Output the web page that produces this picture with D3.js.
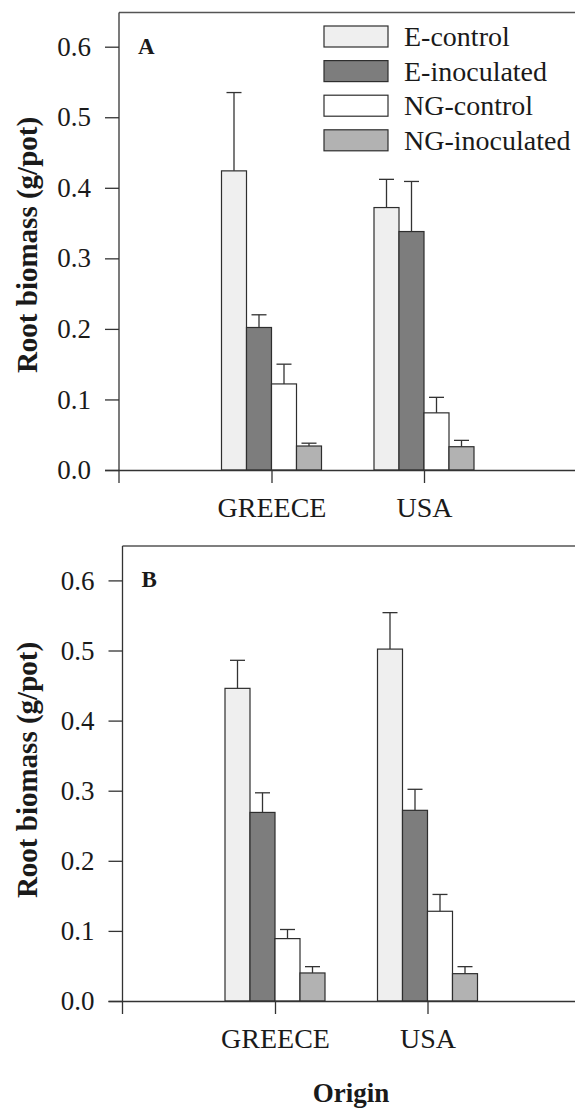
<!DOCTYPE html>
<html>
<head>
<meta charset="utf-8">
<script src="https://cdn.jsdelivr.net/npm/d3@7"></script>
<style>
  body { margin: 0; background: #fff; }
</style>
</head>
<body>
<svg id="chart" width="575" height="1110"></svg>
<script>
// data
const origins = ["GREECE", "USA"];
const treatments = ["E-control", "E-inoculated", "NG-control", "NG-inoculated"];
const yTicks = [0, 0.1, 0.2, 0.3, 0.4, 0.5, 0.6];

// panel A, rows = origin, cols = treatment
const meanA = [[0.424, 0.202, 0.122, 0.034], [0.372, 0.338, 0.081, 0.033]];
const errA  = [[0.111, 0.018, 0.028, 0.004], [0.040, 0.071, 0.022, 0.009]];
// panel B
const meanB = [[0.446, 0.269, 0.089, 0.040], [0.502, 0.272, 0.128, 0.039]];
const errB  = [[0.040, 0.028, 0.013, 0.009], [0.052, 0.030, 0.024, 0.010]];

const fills = ["#efefef", "#7d7d7d", "#ffffff", "#b2b2b2"];
const FONT = "'Liberation Serif', 'Times New Roman', serif";

const svg = d3.select("#chart");

const color = d3.scaleOrdinal().domain(treatments).range(fills);

function drawPanel(opt) {
  const g = svg.append("g");

  const x = d3.scaleLinear().domain([0, 3]).range([opt.left, opt.left + 3 * 152.5]);
  const y = d3.scaleLinear().domain([0, 0.6]).range([opt.bottom, opt.top06]);
  const bar = d3.scaleBand().domain(treatments).range([-50, 50]).padding(0);

  // frame top + left axis line running up to it and down past the x axis
  g.append("line")
    .attr("x1", opt.left).attr("x2", 575)
    .attr("y1", opt.frameTop).attr("y2", opt.frameTop)
    .attr("stroke", "#555").attr("stroke-width", 1.3);
  g.append("line")
    .attr("x1", opt.left).attr("x2", opt.left)
    .attr("y1", opt.frameTop).attr("y2", opt.bottom + 13)
    .attr("stroke", "#333").attr("stroke-width", 1.3);

  // bars
  const rows = [];
  origins.forEach((o, i) => {
    treatments.forEach((t, j) => {
      rows.push({ origin: o, treat: t, pos: i + 1, v: opt.mean[i][j], e: opt.err[i][j] });
    });
  });

  g.selectAll("rect.bar")
    .data(rows)
    .enter()
    .append("rect")
    .attr("class", "bar")
    .attr("x", d => x(d.pos) + bar(d.treat))
    .attr("y", d => y(d.v))
    .attr("width", bar.bandwidth())
    .attr("height", d => y(0) - y(d.v))
    .attr("fill", d => color(d.treat))
    .attr("stroke", "#2e2e2e")
    .attr("stroke-width", 1.2);

  // error bars (upper only)
  const mid = d => x(d.pos) + bar(d.treat) + bar.bandwidth() / 2;
  const eb = g.selectAll("g.err").data(rows).enter().append("g").attr("class", "err")
    .attr("stroke", "#333").attr("stroke-width", 1.3);
  eb.append("line")
    .attr("x1", mid).attr("x2", mid)
    .attr("y1", d => y(d.v))
    .attr("y2", d => y(d.v + d.e));
  eb.append("line")
    .attr("x1", d => mid(d) - 7.5)
    .attr("x2", d => mid(d) + 7.5)
    .attr("y1", d => y(d.v + d.e))
    .attr("y2", d => y(d.v + d.e));

  // y axis
  const yAxis = g.append("g")
    .attr("transform", "translate(" + opt.left + ",0)")
    .call(d3.axisLeft(y).tickValues(yTicks).tickFormat(d3.format(".1f")).tickSize(14).tickPadding(14));
  yAxis.select(".domain").remove();
  yAxis.selectAll("line").attr("stroke", "#333").attr("stroke-width", 1.3);
  yAxis.selectAll("text").style("font-size", "27px").attr("fill", "#1a1a1a");

  // x axis
  const xAxis = g.append("g")
    .attr("transform", "translate(0," + opt.bottom + ")")
    .call(d3.axisBottom(x).tickValues([1, 2]).tickFormat(d => origins[d - 1]).tickSize(13).tickSizeOuter(0).tickPadding(14));
  xAxis.select(".domain").attr("stroke", "#333").attr("stroke-width", 1.3)
    .attr("d", "M" + (opt.left - 14) + ",0.5H575");
  xAxis.selectAll("line").attr("stroke", "#333").attr("stroke-width", 1.3);
  xAxis.selectAll("text").style("font-size", "28px").attr("fill", "#1a1a1a");

  // panel letter
  g.append("text")
    .attr("x", opt.left + 19).attr("y", opt.top06 + 7)
    .style("font-size", "23px").style("font-weight", "bold").attr("fill", "#1a1a1a")
    .text(opt.letter);

  // y title
  g.append("text")
    .attr("transform", "translate(37," + opt.labelY + ") rotate(-90)")
    .attr("text-anchor", "middle")
    .style("font-size", "29px").style("font-weight", "bold").attr("fill", "#1a1a1a")
    .text("Root biomass (g/pot)");

  return g;
}

drawPanel({ letter: "A", left: 119, bottom: 470, top06: 46.7, frameTop: 12.5, labelY: 245, mean: meanA, err: errA });
drawPanel({ letter: "B", left: 122.5, bottom: 1001, top06: 580.4, frameTop: 546, labelY: 770, mean: meanB, err: errB });

// legend in panel A
const legend = svg.append("g").attr("transform", "translate(324,26)");
const item = legend.selectAll("g").data(treatments).enter().append("g")
  .attr("transform", (d, i) => "translate(0," + i * 34.6 + ")");
item.append("rect")
  .attr("width", 64).attr("height", 21)
  .attr("fill", d => color(d))
  .attr("stroke", "#2e2e2e").attr("stroke-width", 1.2);
item.append("text")
  .attr("x", 80).attr("y", 20)
  .style("font-size", "28px").attr("fill", "#1a1a1a")
  .text(d => d);

// shared x title
svg.append("text")
  .attr("x", 351).attr("y", 1102)
  .attr("text-anchor", "middle")
  .style("font-size", "27px").style("font-weight", "bold").attr("fill", "#1a1a1a")
  .text("Origin");

// serif everywhere (inline style beats the axis font-family attribute)
svg.selectAll("text").style("font-family", FONT);
</script>
</body>
</html>
